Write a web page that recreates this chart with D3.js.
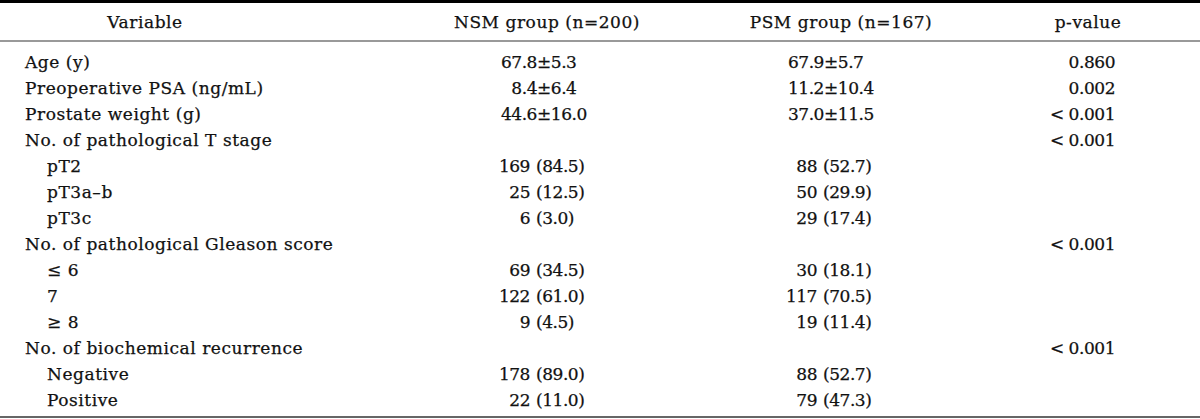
<!DOCTYPE html>
<html lang="en">
<head>
  <meta charset="UTF-8">
  <title>NSM vs PSM table</title>
  <style>
    body { margin: 0; padding: 0; background: #fff; }
    svg { display: block; }
    .cell {
      font-family: "DejaVu Serif", "Liberation Serif", serif;
      font-size: 17px;
      fill: #111;
      stroke: #111;
      stroke-width: 0.25px;
    }
    .label { letter-spacing: 0.55px; }
    .num { letter-spacing: -0.45px; }
  </style>
</head>
<body>
  <div id="chart"></div>
  <script src="https://cdnjs.cloudflare.com/ajax/libs/d3/7.8.5/d3.min.js"></script>
  <script>
    'use strict';

    const headers = ["Variable", "NSM group (n=200)", "PSM group (n=167)", "p-value"];

    const variables = [
      "Age (y)", "Preoperative PSA (ng/mL)", "Prostate weight (g)",
      "No. of pathological T stage", "pT2", "pT3a\u2013b", "pT3c",
      "No. of pathological Gleason score", "\u2264 6", "7", "\u2265 8",
      "No. of biochemical recurrence", "Negative", "Positive"
    ];
    const level = [0, 0, 0, 0, 1, 1, 1, 0, 1, 1, 1, 0, 1, 1];

    const nsmGroup = [
      "67.8\u00b15.3", "8.4\u00b16.4", "44.6\u00b116.0", "",
      "169 (84.5)", "25 (12.5)", "6 (3.0)", "",
      "69 (34.5)", "122 (61.0)", "9 (4.5)", "",
      "178 (89.0)", "22 (11.0)"
    ];
    const psmGroup = [
      "67.9\u00b15.7", "11.2\u00b110.4", "37.0\u00b111.5", "",
      "88 (52.7)", "50 (29.9)", "29 (17.4)", "",
      "30 (18.1)", "117 (70.5)", "19 (11.4)", "",
      "88 (52.7)", "79 (47.3)"
    ];
    const pValues = [
      "0.860", "0.002", "<0.001", "<0.001", "", "", "",
      "<0.001", "", "", "", "<0.001", "", ""
    ];

    const w = 1200, h = 419;

    const svg = d3.select("#chart").append("svg")
      .attr("width", w)
      .attr("height", h);

    // row baselines
    const y = d3.scalePoint()
      .domain(d3.range(variables.length))
      .range([68, 406]);

    // header centers
    const headX = d3.scaleOrdinal()
      .domain(headers)
      .range([145, 547, 841, 1088]);

    // alignment pivots for the two group columns
    const pivot = d3.scaleOrdinal()
      .domain(["nsm", "psm"])
      .range([536, 823]);

    // rules
    svg.append("line").attr("x1", 0).attr("x2", w).attr("y1", 1.5).attr("y2", 1.5)
      .attr("stroke", "#000").attr("stroke-width", 3);
    svg.append("line").attr("x1", 0).attr("x2", w).attr("y1", 41).attr("y2", 41)
      .attr("stroke", "#777").attr("stroke-width", 1.5);
    svg.append("line").attr("x1", 0).attr("x2", w).attr("y1", 417).attr("y2", 417)
      .attr("stroke", "#333").attr("stroke-width", 1.5);

    // header
    svg.selectAll(".head")
      .data(headers)
      .join("text")
      .attr("class", "cell label head")
      .attr("x", d => headX(d))
      .attr("y", 28)
      .attr("text-anchor", "middle")
      .text(d => d);

    // variable names
    svg.selectAll(".var")
      .data(variables)
      .join("text")
      .attr("class", "cell label var")
      .attr("x", (d, i) => level[i] ? 47 : 25)
      .attr("y", (d, i) => y(i))
      .text(d => d);

    function splitValue(v) {
      if (v.includes("\u00b1")) {
        const k = v.indexOf("\u00b1");
        return { left: v.slice(0, k), right: v.slice(k), gap: 1 };
      }
      const k = v.indexOf(" (");
      return { left: v.slice(0, k), right: v.slice(k + 1), gap: -6 };
    }

    function drawGroup(key, values) {
      const g = svg.append("g").attr("class", key);
      values.forEach((v, i) => {
        if (!v) return;
        const p = splitValue(v);
        const px = pivot(key);
        g.append("text")
          .attr("class", "cell num")
          .attr("x", px + p.gap)
          .attr("y", y(i))
          .attr("text-anchor", "end")
          .text(p.left);
        g.append("text")
          .attr("class", "cell num")
          .attr("x", p.gap < 0 ? px : px + p.gap)
          .attr("y", y(i))
          .text(p.right);
      });
    }

    drawGroup("nsm", nsmGroup);
    drawGroup("psm", psmGroup);

    // p-values: the "<" sits a little apart from the number
    svg.selectAll(".pval")
      .data(pValues)
      .join("text")
      .attr("class", "cell num pval")
      .attr("x", 1115)
      .attr("y", (d, i) => y(i))
      .attr("text-anchor", "end")
      .text(d => d.replace("<", ""));

    svg.selectAll(".lt")
      .data(pValues.map((d, i) => ({ d, i })).filter(o => o.d.startsWith("<")))
      .join("text")
      .attr("class", "cell lt")
      .attr("x", 1050)
      .attr("y", o => y(o.i))
      .text("<");
  </script>
</body>
</html>
